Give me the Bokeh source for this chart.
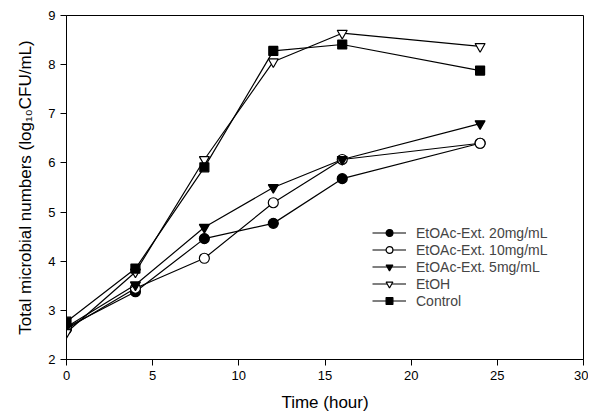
from bokeh.plotting import figure
from bokeh.models import Legend, LegendItem, Range1d, FixedTicker
from bokeh.embed import file_html
from bokeh.resources import INLINE

time = [0, 4, 8, 12, 16, 24]
ext20 = [2.65, 3.38, 4.46, 4.77, 5.68, 6.40]
ext10 = [2.62, 3.45, 4.06, 5.19, 6.07, 6.40]
ext5 = [2.66, 3.52, 4.69, 5.50, 6.07, 6.80]
etoh = [2.55, 3.78, 6.07, 8.06, 8.64, 8.37]
control = [2.77, 3.85, 5.91, 8.28, 8.41, 7.88]

labels = ["EtOAc-Ext. 20mg/mL", "EtOAc-Ext. 10mg/mL", "EtOAc-Ext. 5mg/mL", "EtOH", "Control"]
x_ticks = [0, 5, 10, 15, 20, 25, 30]
y_ticks = [2, 3, 4, 5, 6, 7, 8, 9]

FONT = "Liberation Sans"

p = figure(width=588, height=414, output_backend="svg", toolbar_location=None,
           x_range=Range1d(0, 30), y_range=Range1d(2, 9),
           min_border_left=66, min_border_top=15, min_border_right=5, min_border_bottom=53)
p.grid.visible = False
p.outline_line_color = "black"
p.outline_line_width = 1
p.background_fill_color = "white"

for ax in (p.xaxis[0], p.yaxis[0]):
    ax.major_tick_in = 0
    ax.major_tick_out = 6
    ax.minor_tick_line_color = None
    ax.major_label_text_font = FONT
    ax.major_label_text_font_size = "13px"
    ax.major_label_text_color = "black"
    ax.axis_label_text_font = FONT
    ax.axis_label_text_font_size = "17px"
    ax.axis_label_text_font_style = "normal"
    ax.axis_label_text_color = "black"
    ax.axis_line_color = "black"
    ax.major_tick_line_color = "black"

p.xaxis.ticker = FixedTicker(ticks=x_ticks)
p.yaxis.ticker = FixedTicker(ticks=y_ticks)
p.xaxis.axis_label = "Time (hour)"
p.yaxis.axis_label = "Total microbial numbers (log\u2081\u2080CFU/mL)"
p.xaxis.axis_label_standoff = 10
p.yaxis.axis_label_standoff = 10

series = [ext20, ext10, ext5, etoh, control]
markers = ["circle", "circle", "inverted_triangle", "inverted_triangle", "square"]
fills = ["black", "white", "black", "white", "black"]
sizes = [10, 10, 10, 10, 9]

items = []
for ys, m, fc, sz, lab in zip(series, markers, fills, sizes, labels):
    ln = p.line(time, ys, line_color="black", line_width=1.2)
    sc = p.scatter(time, ys, marker=m, size=sz, fill_color=fc, line_color="black", line_width=1.2)
    items.append(LegendItem(label=lab, renderers=[ln, sc]))

legend = Legend(items=items, location=(306, 50), padding=0, margin=0,
                border_line_color=None, background_fill_alpha=0,
                glyph_width=34, glyph_height=17, label_height=17, spacing=0,
                label_standoff=10, label_text_font=FONT, label_text_font_size="14px")
p.add_layout(legend, "center")

open("out.html", "w").write(file_html(p, INLINE))
